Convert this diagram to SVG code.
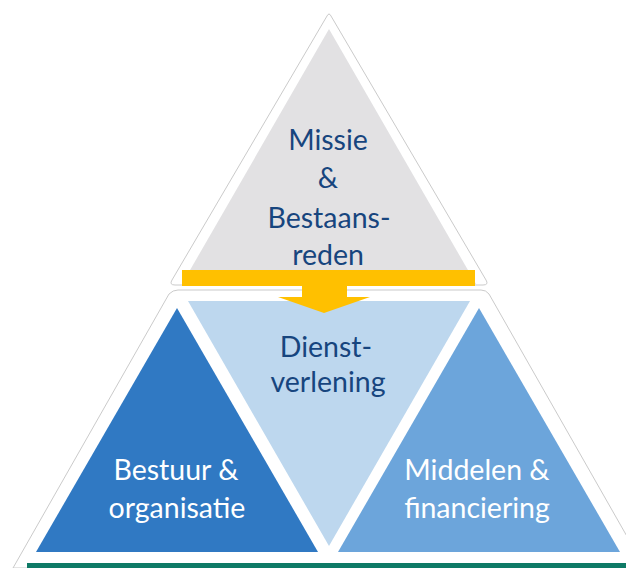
<svg xmlns="http://www.w3.org/2000/svg" width="626" height="568" viewBox="0 0 626 568">
  <style>
    .frame { fill: #ffffff; stroke: #c4c4c4; stroke-width: 0.9; stroke-linejoin: round; }
    .lbl { font-family: Lato, "Open Sans", "Liberation Sans", sans-serif; font-size: 28.5px; text-anchor: middle; }
    .dark { fill: #17457e; }
    .light { fill: #ffffff; }
  </style>
  <rect width="626" height="568" fill="#ffffff"/>

  <!-- outer frames -->
  <g id="frames">
    <path class="frame" d="M 13,568 L 169,294 Q 173,290 178,290 L 481,290 Q 486,290 489,294 L 645,568 Z"/>
    <path class="frame" d="M 327,16 Q 329,12 331,16 L 486,280 Q 489,285 483,285 L 175,285 Q 169,285 172,280 Z"/>
  </g>

  <!-- top: mission -->
  <g id="missie">
    <polygon points="329,29 182,284 476,284" fill="#e2e1e3"/>
    <text class="lbl dark" x="328" y="150">Missie</text>
    <text class="lbl dark" x="328" y="188">&amp;</text>
    <text class="lbl dark" x="329" y="228">Bestaans-</text>
    <text class="lbl dark" x="328" y="265">reden</text>
  </g>

  <!-- centre: service -->
  <g id="dienstverlening">
    <polygon points="188,301 470,301 329,546" fill="#bdd7ee"/>
    <text class="lbl dark" x="326" y="357">Dienst-</text>
    <text class="lbl dark" x="328" y="392">verlening</text>
  </g>

  <!-- left: governance -->
  <g id="bestuur">
    <polygon points="177,308 318,552 36,552" fill="#3079c3"/>
    <text class="lbl light" x="176" y="480">Bestuur &amp;</text>
    <text class="lbl light" x="177" y="518">organisatie</text>
  </g>

  <!-- right: resources -->
  <g id="middelen">
    <polygon points="479,308 620,552 338,552" fill="#6ca5db"/>
    <text class="lbl light" x="477" y="480">Middelen &amp;</text>
    <text class="lbl light" x="477" y="518">financiering</text>
  </g>

  <!-- connector: bar with downward arrow -->
  <g id="connectors">
    <rect x="182" y="270" width="293" height="16" fill="#ffc000"/>
    <path d="M 302,285 L 347,285 L 347,297 L 370,297 L 324,313 L 278,297 L 302,297 Z" fill="#ffc000"/>
  </g>

  <!-- base line -->
  <g id="base">
    <rect x="27" y="563" width="599" height="5" fill="#0e7a66"/>
  </g>
</svg>
